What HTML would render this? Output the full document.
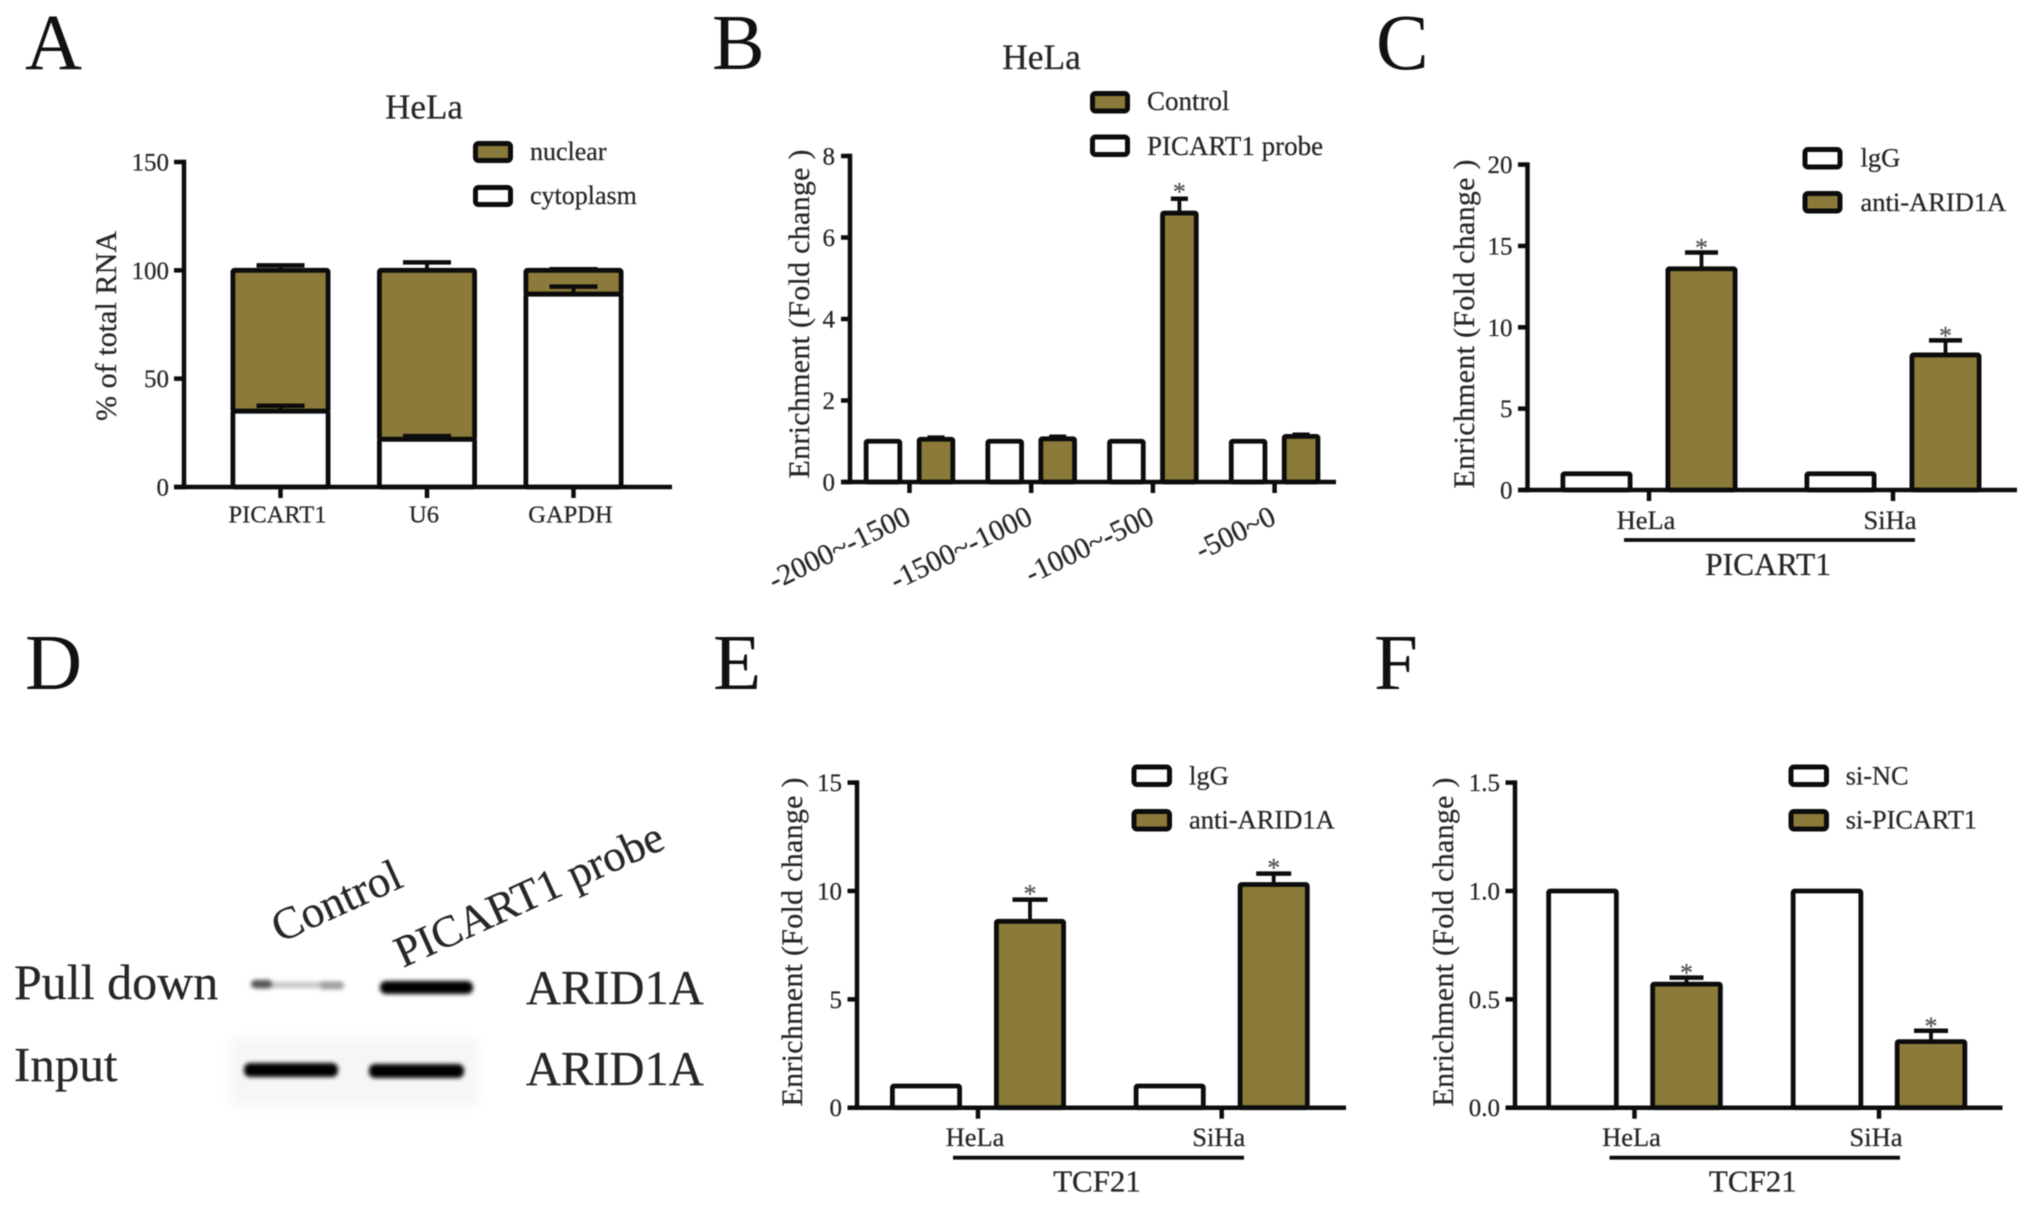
<!DOCTYPE html>
<html lang="en">
<head>
<meta charset="utf-8">
<title>PICART1 enrichment figure</title>
<style>
html,body{margin:0;padding:0;background:#fff;width:2031px;height:1206px;overflow:hidden}
svg{display:block;filter:blur(0.5px)}
text{font-family:"Liberation Serif","Times New Roman",serif;fill:#262626;stroke:#262626;stroke-width:0.25px}
.letter{fill:#111;stroke:none}
</style>
</head>
<body>
<svg id="figure" xmlns="http://www.w3.org/2000/svg" width="2031" height="1206" viewBox="0 0 2031 1206">
<defs>
<filter id="bandBlur" x="-20%" y="-100%" width="140%" height="300%"><feGaussianBlur stdDeviation="2"/></filter>
<filter id="patchBlur" x="-10%" y="-20%" width="120%" height="140%"><feGaussianBlur stdDeviation="5"/></filter>
</defs>
<rect x="0" y="0" width="2031" height="1206" fill="#fff"/>

<text class="letter" x="25" y="69" font-size="79">A</text>
<text class="letter" x="712" y="69" font-size="79">B</text>
<text class="letter" x="1376" y="69" font-size="79">C</text>
<text class="letter" x="25" y="689" font-size="79">D</text>
<text class="letter" x="713" y="689" font-size="79">E</text>
<text class="letter" x="1374" y="689" font-size="79">F</text>

<g>
  <rect x="230" y="1038" width="248" height="68" fill="#f6f6f6" filter="url(#patchBlur)"/>
  <rect x="254" y="982" width="88" height="6" rx="3" fill="#c4c4c4" filter="url(#bandBlur)"/>
  <rect x="251" y="980" width="21" height="8" rx="4" fill="#555" filter="url(#bandBlur)"/>
  <rect x="320" y="982" width="24" height="7" rx="3" fill="#a0a0a0" filter="url(#bandBlur)"/>
  <rect x="380" y="981" width="93" height="13" rx="6" fill="#000" filter="url(#bandBlur)"/>
  <rect x="244" y="1063" width="94" height="14" rx="6" fill="#000" filter="url(#bandBlur)"/>
  <rect x="369" y="1064" width="95" height="14" rx="6" fill="#000" filter="url(#bandBlur)"/>
  <text transform="translate(280 943) rotate(-24.5)" font-size="45">Control</text>
  <text transform="translate(403 968) rotate(-24.5)" font-size="44.5">PICART1 probe</text>
  <text x="14" y="999" font-size="50">Pull down</text>
  <text x="14" y="1081" font-size="49">Input</text>
  <text x="526" y="1004" font-size="48.5">ARID1A</text>
  <text x="526" y="1085" font-size="48.5">ARID1A</text>
</g>
</svg>

<script>
/* ---------- Panel A data ---------- */
const aCategories = ['PICART1', 'U6', 'GAPDH'];
const aCytoplasm = [35, 22, 89];
const aCytoplasmErr = [37.5, 23.5, 92.5];
const aTotal = [100, 100, 100];
const aNuclearErr = [102.3, 103.7, 100.5];
const aTicks = [0, 50, 100, 150];
const aTickLabels = ['0', '50', '100', '150'];

/* ---------- Panel B data ---------- */
const bCategories = ['-2000~-1500', '-1500~-1000', '-1000~-500', '-500~0'];
const bProbe = [1, 1, 1, 1];
const bControl = [1.05, 1.06, 6.6, 1.12];
const bControlErr = [1.09, 1.11, 6.95, 1.16];
const bStars = ['', '', '*', ''];
const bTicks = [0, 2, 4, 6, 8];
const bTickLabels = ['0', '2', '4', '6', '8'];

/* ---------- Panel C data ---------- */
const cCategories = ['HeLa', 'SiHa'];
const cIgg = [1, 1];
const cArid = [13.6, 8.3];
const cAridErr = [14.6, 9.2];
const cStars = ['*', '*'];
const cTicks = [0, 5, 10, 15, 20];
const cTickLabels = ['0', '5', '10', '15', '20'];

/* ---------- Panel E data ---------- */
const eCategories = ['HeLa', 'SiHa'];
const eIgg = [1, 1];
const eArid = [8.6, 10.3];
const eAridErr = [9.6, 10.8];
const eStars = ['*', '*'];
const eTicks = [0, 5, 10, 15];
const eTickLabels = ['0', '5', '10', '15'];

/* ---------- Panel F data ---------- */
const fCategories = ['HeLa', 'SiHa'];
const fNc = [1, 1];
const fSi = [0.57, 0.305];
const fSiErr = [0.6, 0.355];
const fStars = ['*', '*'];
const fTicks = [0, 0.5, 1, 1.5];
const fTickLabels = ['0.0', '0.5', '1.0', '1.5'];

const BROWN = '#8b7a3a';
const INK = '#0c0c0c';
const svg = document.getElementById('figure');
const NS = 'http://www.w3.org/2000/svg';

function group(name) {
  const el = document.createElementNS(NS, 'g');
  
  
  svg.appendChild(el);
  return el;
}
function line(parent, name, x1, y1, x2, y2, w) {
  const el = document.createElementNS(NS, 'line');
  
  
  el.setAttribute('x1', x1);
  el.setAttribute('y1', y1);
  el.setAttribute('x2', x2);
  el.setAttribute('y2', y2);
  el.setAttribute('stroke', INK);
  el.setAttribute('stroke-width', w);
  parent.appendChild(el);
  return el;
}
function box(parent, name, x, y, w, h, fill, r, sw) {
  const el = document.createElementNS(NS, 'rect');
  
  
  el.setAttribute('x', x);
  el.setAttribute('y', y);
  el.setAttribute('width', w);
  el.setAttribute('height', Math.max(h, 0));
  el.setAttribute('fill', fill);
  el.setAttribute('stroke', INK);
  el.setAttribute('stroke-width', sw);
  el.setAttribute('rx', r);
  parent.appendChild(el);
  return el;
}
function label(parent, name, str, x, y, size, anchor, rot, len) {
  const el = document.createElementNS(NS, 'text');
  
  
  el.setAttribute('font-size', size);
  el.setAttribute('text-anchor', anchor);
  el.setAttribute('transform', 'translate(' + x + ' ' + y + ') rotate(' + rot + ')');
  if (len) el.setAttribute('textLength', len);
  el.textContent = str;
  parent.appendChild(el);
  return el;
}

/* axis functions */
function yScale(p) { return v => p.y0 - (v / p.yMax) * (p.y0 - p.yTop); }
function xScale(p) { return i => p.first + i * p.step; }

function drawAxes(g, p, ticks, tickLabels, count, id) {
  const y = yScale(p), x = xScale(p);
  line(g, id + '-y-axis', p.axisX, p.yTop - 2.2, p.axisX, p.y0 + 2.2, 4.5);
  line(g, id + '-x-axis', p.xStart, p.y0, p.xEnd, p.y0, 4.5);
  ticks.forEach((t, i) => {
    line(g, id + '-y-tick', p.xStart, y(t), p.axisX, y(t), 4.5);
    label(g, id + '-y-tick-label', tickLabels[i], p.axisX - 15, y(t) + 8.5, 25, 'end', 0);
  });
  for (let i = 0; i < count; i++) {
    line(g, id + '-x-tick', x(i), p.y0, x(i), p.y0 + 11, 4.5);
  }
}
function drawBar(g, name, cx, w, yTop, yBottom, fill) {
  const sw = 4.8;
  box(g, name, cx - w / 2 + sw / 2, yTop, w - sw, yBottom - yTop, fill, 1.5, sw);
}
function drawError(g, name, cx, yFrom, yErr, capW) {
  line(g, name + '-stem', cx, yFrom, cx, yErr, 3.8);
  line(g, name + '-cap', cx - capW / 2, yErr, cx + capW / 2, yErr, 4.5);
}
function drawLegend(g, id, x, y1, y2, textX, base1, base2, name1, fill1, name2, fill2, w, h, size) {
  const sw = 5;
  box(g, id + '-legend-swatch-1', x + sw / 2 - 1, y1 + sw / 2 - 1, w - sw + 2, h - sw + 2, fill1, 3, sw);
  label(g, id + '-legend-label-1', name1, textX, base1, size, 'start', 0);
  box(g, id + '-legend-swatch-2', x + sw / 2 - 1, y2 + sw / 2 - 1, w - sw + 2, h - sw + 2, fill2, 3, sw);
  label(g, id + '-legend-label-2', name2, textX, base2, size, 'start', 0);
}
function drawPairs(g, id, p, cats, white, brown, err, stars) {
  const y = yScale(p), x = xScale(p);
  cats.forEach((c, i) => {
    const cx = x(i);
    drawBar(g, id + '-bar-white-' + i, cx - p.off, p.barW, y(white[i]), p.y0, '#fff');
    const bx = cx + p.off;
    drawError(g, id + '-error-' + i, bx, y(brown[i]), y(err[i]), p.capW);
    drawBar(g, id + '-bar-brown-' + i, bx, p.barW, y(brown[i]), p.y0, BROWN);
    if (stars[i]) {
      const st = label(g, id + '-significance-star-' + i, stars[i], bx, y(err[i]) - p.starGap + 13, 26, 'middle', 0);
      st.style.fill = '#555';
      st.style.stroke = '#555';
    }
  });
}

/* ---- Panel A ---- */
(function () {
  const id = 'panel-a';
  const g = group(id);
  const p = { axisX: 184, xStart: 174, xEnd: 672, y0: 487, yTop: 162, yMax: 150, first: 280.5, step: 146.5 };
  const y = yScale(p), x = xScale(p);
  label(g, id + '-title', 'HeLa', 424, 118.5, 35, 'middle', 0);
  label(g, id + '-y-axis-title', '% of total RNA', 116, 326, 30, 'middle', -90, 190);
  aCategories.forEach((c, i) => {
    const cx = x(i);
    drawBar(g, id + '-bar-nuclear-' + c, cx, 100, y(aTotal[i]), y(aCytoplasm[i]), BROWN);
    drawBar(g, id + '-bar-cytoplasm-' + c, cx, 100, y(aCytoplasm[i]), p.y0, '#fff');
    drawError(g, id + '-error-nuclear-' + c, cx, y(aTotal[i]), y(aNuclearErr[i]), 48);
    drawError(g, id + '-error-cytoplasm-' + c, cx, y(aCytoplasm[i]), y(aCytoplasmErr[i]), 48);
    label(g, id + '-category-label-' + c, c, cx - 3, 522.5, 24.5, 'middle', 0);
  });
  drawAxes(g, p, aTicks, aTickLabels, aCategories.length, id);
  drawLegend(g, id, 474, 142, 186, 530, 160, 204, 'nuclear', BROWN, 'cytoplasm', '#fff', 38, 20, 26);
})();

/* ---- Panel B ---- */
(function () {
  const id = 'panel-b';
  const g = group(id);
  const p = { axisX: 850, xStart: 841, xEnd: 1336, y0: 482, yTop: 156, yMax: 8, first: 909.5, step: 121.7, off: 26.5, barW: 38.5, capW: 17, starGap: 11.5 };
  const x = xScale(p);
  label(g, id + '-title', 'HeLa', 1041.5, 69, 35.5, 'middle', 0);
  label(g, id + '-y-axis-title', 'Enrichment (Fold change )', 809, 314, 30, 'middle', -90, 329);
  drawPairs(g, id, p, bCategories, bProbe, bControl, bControlErr, bStars);
  bCategories.forEach((c, i) => {
    label(g, id + '-category-label-' + i, c, x(i) + 3, 523, 29.5, 'end', -26);
  });
  drawAxes(g, p, bTicks, bTickLabels, bCategories.length, id);
  drawLegend(g, id, 1091, 92, 135.5, 1147, 110, 155, 'Control', BROWN, 'PICART1 probe', '#fff', 38, 20.5, 27);
})();

/* ---- Panel C ---- */
(function () {
  const id = 'panel-c';
  const g = group(id);
  const p = { axisX: 1527.5, xStart: 1518, xEnd: 2017, y0: 490, yTop: 164.6, yMax: 20, first: 1649, step: 244, off: 52.5, barW: 72, capW: 33, starGap: 9 };
  const x = xScale(p);
  label(g, id + '-y-axis-title', 'Enrichment (Fold change )', 1474, 324, 30, 'middle', -90, 329);
  drawPairs(g, id, p, cCategories, cIgg, cArid, cAridErr, cStars);
  cCategories.forEach((c, i) => {
    label(g, id + '-category-label-' + c, c, x(i) - 3, 529, 26.5, 'middle', 0);
  });
  drawAxes(g, p, cTicks, cTickLabels, cCategories.length, id);
  line(g, id + '-group-bracket', 1624, 540, 1915, 540, 3.8);
  label(g, id + '-group-label', 'PICART1', 1768, 575, 31.5, 'middle', 0);
  drawLegend(g, id, 1803.5, 148, 192, 1860.5, 166.5, 211, 'lgG', '#fff', 'anti-ARID1A', BROWN, 38, 20.5, 26.5);
})();

/* ---- Panel E ---- */
(function () {
  const id = 'panel-e';
  const g = group(id);
  const p = { axisX: 857, xStart: 847.5, xEnd: 1346, y0: 1107.7, yTop: 782.6, yMax: 15, first: 978, step: 243.7, off: 52, barW: 72, capW: 35, starGap: 10 };
  const x = xScale(p);
  label(g, id + '-y-axis-title', 'Enrichment (Fold change )', 802, 942, 30, 'middle', -90, 329);
  drawPairs(g, id, p, eCategories, eIgg, eArid, eAridErr, eStars);
  eCategories.forEach((c, i) => {
    label(g, id + '-category-label-' + c, c, x(i) - 3, 1146, 26.5, 'middle', 0);
  });
  drawAxes(g, p, eTicks, eTickLabels, eCategories.length, id);
  line(g, id + '-group-bracket', 953, 1157.7, 1244, 1157.7, 3.8);
  label(g, id + '-group-label', 'TCF21', 1097, 1191.7, 31, 'middle', 0);
  drawLegend(g, id, 1132.5, 765.5, 810, 1189, 784.5, 828.5, 'lgG', '#fff', 'anti-ARID1A', BROWN, 38.5, 20.5, 26.5);
})();

/* ---- Panel F ---- */
(function () {
  const id = 'panel-f';
  const g = group(id);
  const p = { axisX: 1515, xStart: 1505.5, xEnd: 2002.5, y0: 1107.7, yTop: 782.6, yMax: 1.5, first: 1634.5, step: 244.5, off: 52, barW: 72.5, capW: 34, starGap: 9 };
  const x = xScale(p);
  label(g, id + '-y-axis-title', 'Enrichment (Fold change )', 1453, 942, 30, 'middle', -90, 329);
  drawPairs(g, id, p, fCategories, fNc, fSi, fSiErr, fStars);
  fCategories.forEach((c, i) => {
    label(g, id + '-category-label-' + c, c, x(i) - 3, 1146, 26.5, 'middle', 0);
  });
  drawAxes(g, p, fTicks, fTickLabels, fCategories.length, id);
  line(g, id + '-group-bracket', 1609.5, 1157.7, 1900, 1157.7, 3.8);
  label(g, id + '-group-label', 'TCF21', 1752.8, 1191.7, 31, 'middle', 0);
  drawLegend(g, id, 1789.5, 765.5, 810, 1845.7, 784.5, 828.5, 'si-NC', '#fff', 'si-PICART1', BROWN, 38.5, 20.5, 26.3);
})();
</script>
</body>
</html>
